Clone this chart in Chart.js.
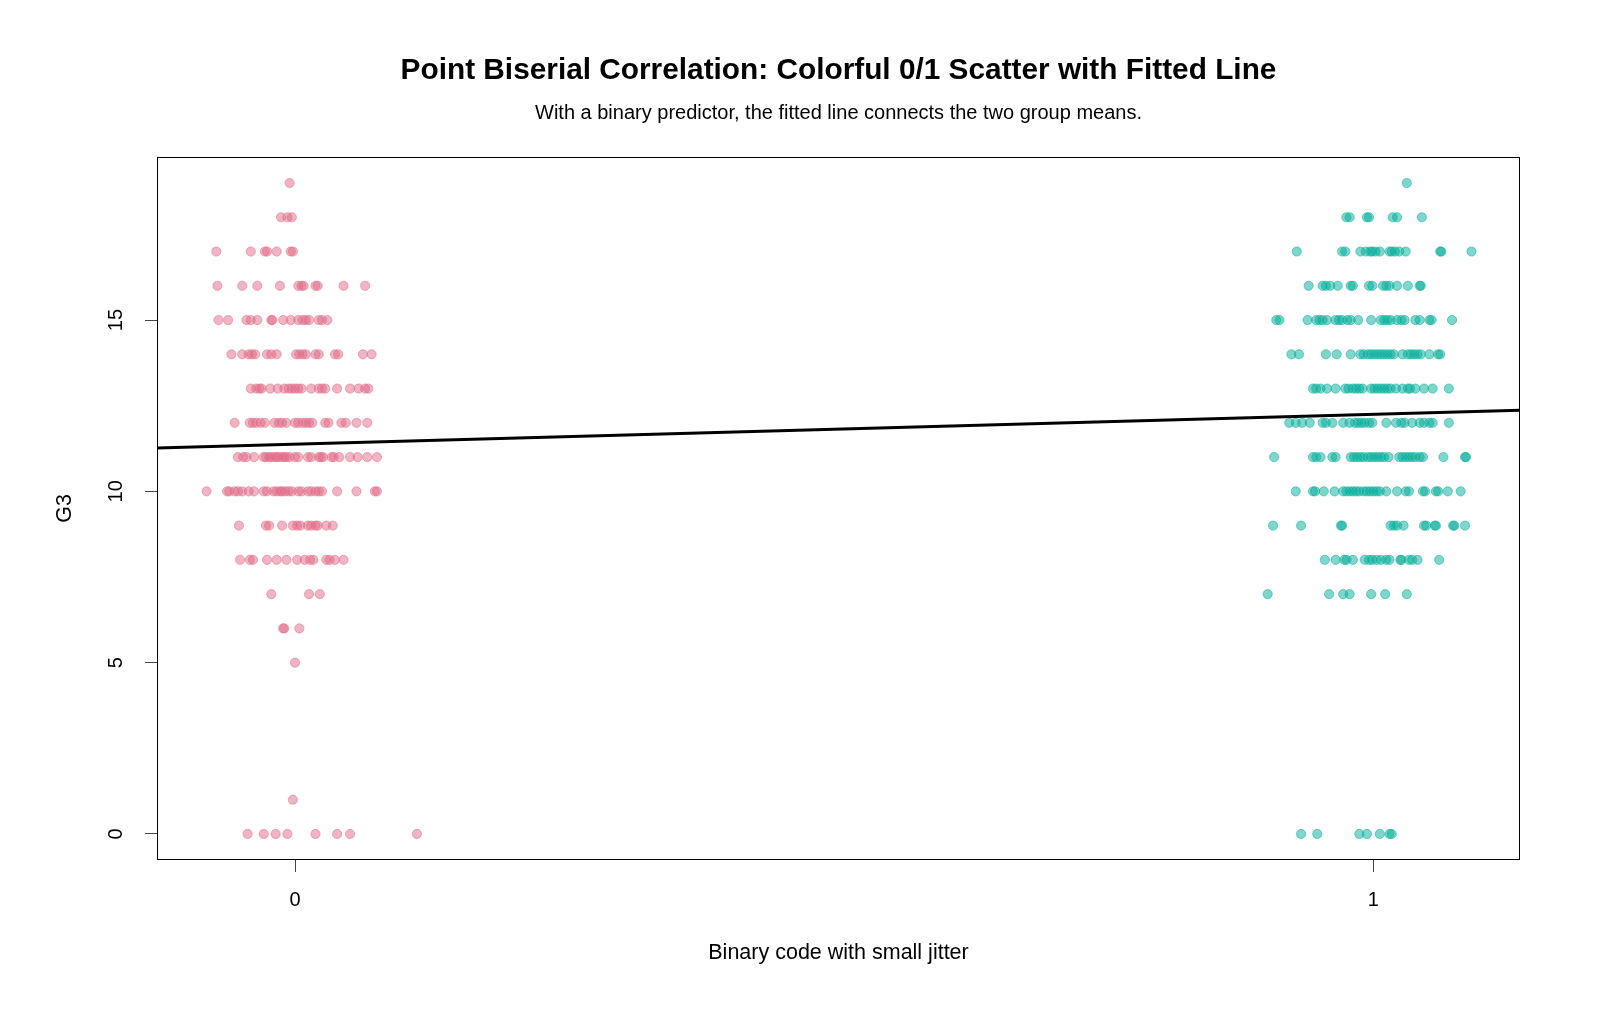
<!DOCTYPE html>
<html><head><meta charset="utf-8">
<script src="https://cdn.jsdelivr.net/npm/chart.js@4.4.1/dist/chart.umd.min.js"></script>
<style>html,body{margin:0;padding:0;background:#fff;}#wrap{width:1600px;height:1018px;}</style>
</head><body><div id="wrap"><canvas id="c" width="1600" height="1018"></canvas></div>
<script>
const titleText = 'Point Biserial Correlation: Colorful 0/1 Scatter with Fitted Line';
const subtitleText = 'With a binary predictor, the fitted line connects the two group means.';
const xTitle = 'Binary code with small jitter';
const yTitle = 'G3';
const xTickValues = [0, 1];
const yTickValues = [0, 5, 10, 15];
const xLimits = [-0.128, 1.136];
const yLimits = [-0.76, 19.76];
const groupMeans = [11.38, 12.25];

const g3Levels = [19,18,17,16,15,14,13,12,11,10,9,8,7,6,5,4,3,2,1,0];
// jittered x positions of group 0, one list per G3 level above
const group0Jitter = [
  [-0.005],
  [-0.013,-0.007,-0.003],
  [-0.073,-0.041,-0.028,-0.026,-0.017,-0.004,-0.002],
  [-0.072,-0.049,-0.035,-0.014,0.003,0.006,0.008,0.019,0.021,0.045,0.065],
  [-0.071,-0.062,-0.045,-0.041,-0.035,-0.022,-0.021,-0.011,-0.004,0.003,0.007,0.010,0.013,0.022,0.025,0.030],
  [-0.059,-0.049,-0.043,-0.040,-0.037,-0.026,-0.022,-0.017,0.001,0.004,0.007,0.010,0.019,0.022,0.037,0.040,0.063,0.071],
  [-0.041,-0.036,-0.033,-0.031,-0.023,-0.016,-0.010,-0.006,-0.003,0.000,0.003,0.006,0.015,0.022,0.025,0.028,0.039,0.051,0.059,0.065,0.068],
  [-0.056,-0.042,-0.039,-0.036,-0.032,-0.028,-0.019,-0.015,-0.012,-0.008,0.000,0.003,0.007,0.010,0.013,0.016,0.028,0.031,0.043,0.047,0.057,0.067],
  [-0.053,-0.048,-0.045,-0.038,-0.029,-0.027,-0.024,-0.022,-0.019,-0.017,-0.015,-0.012,-0.010,-0.008,-0.005,0.000,0.003,0.012,0.015,0.022,0.024,0.026,0.034,0.036,0.041,0.051,0.058,0.067,0.076],
  [-0.082,-0.063,-0.061,-0.056,-0.053,-0.049,-0.043,-0.038,-0.029,-0.026,-0.020,-0.017,-0.014,-0.012,-0.009,-0.006,-0.003,0.003,0.006,0.012,0.015,0.019,0.022,0.025,0.039,0.057,0.074,0.076],
  [-0.052,-0.027,-0.024,-0.012,-0.002,0.002,0.005,0.012,0.015,0.019,0.021,0.029,0.035],
  [-0.051,-0.042,-0.039,-0.026,-0.017,-0.008,0.002,0.009,0.014,0.017,0.029,0.032,0.037,0.045],
  [-0.022,0.013,0.023],
  [-0.011,-0.010,0.004],
  [0.000],
  [],
  [],
  [],
  [-0.002],
  [-0.044,-0.029,-0.018,-0.007,0.019,0.039,0.051,0.113]
];
// jittered x positions of group 1, one list per G3 level above
const group1Jitter = [
  [1.031],
  [0.975,0.978,0.994,0.996,1.018,1.022,1.045],
  [0.929,0.971,0.974,0.988,0.993,0.997,0.999,1.002,1.006,1.015,1.017,1.020,1.024,1.030,1.062,1.063,1.091],
  [0.940,0.953,0.956,0.960,0.967,0.979,0.981,0.996,0.999,1.009,1.012,1.015,1.022,1.032,1.043,1.044],
  [0.910,0.913,0.939,0.947,0.950,0.953,0.957,0.965,0.968,0.971,0.976,0.979,0.986,0.998,1.007,1.010,1.013,1.016,1.022,1.026,1.029,1.039,1.043,1.052,1.054,1.073],
  [0.924,0.931,0.956,0.966,0.979,0.988,0.991,0.995,0.998,1.001,1.004,1.007,1.010,1.013,1.016,1.019,1.027,1.032,1.035,1.038,1.041,1.044,1.052,1.060,1.062],
  [0.944,0.947,0.951,0.957,0.965,0.974,0.977,0.981,0.984,0.987,0.990,0.998,1.001,1.004,1.007,1.010,1.013,1.016,1.021,1.027,1.032,1.034,1.039,1.047,1.055,1.070],
  [0.922,0.928,0.934,0.941,0.953,0.956,0.962,0.972,0.978,0.983,0.986,0.989,0.992,0.996,0.999,1.012,1.021,1.026,1.029,1.036,1.043,1.047,1.052,1.055,1.070],
  [0.908,0.944,0.947,0.951,0.962,0.965,0.979,0.982,0.985,0.988,0.991,0.995,0.998,1.001,1.004,1.007,1.010,1.014,1.024,1.027,1.030,1.033,1.036,1.039,1.043,1.046,1.065,1.085,1.086],
  [0.928,0.944,0.946,0.954,0.964,0.972,0.975,0.978,0.981,0.984,0.987,0.991,0.994,0.997,1.000,1.003,1.006,1.012,1.022,1.030,1.033,1.046,1.048,1.058,1.060,1.069,1.081],
  [0.907,0.933,0.970,0.971,1.016,1.019,1.022,1.028,1.047,1.049,1.057,1.058,1.074,1.075,1.085],
  [0.955,0.965,0.973,0.975,0.981,0.992,0.996,0.999,1.003,1.007,1.012,1.015,1.025,1.026,1.033,1.036,1.041,1.061],
  [0.902,0.959,0.972,0.978,0.998,1.011,1.031],
  [],
  [],
  [],
  [],
  [],
  [],
  [0.933,0.948,0.987,0.994,1.006,1.015,1.017]
];

const FONT = "'Liberation Sans', Arial, Helvetica, sans-serif";
const pinkFill = 'rgba(225,106,134,0.5)';
const tealFill = 'rgba(0,173,154,0.5)';

function toPoints(rows) {
  const pts = [];
  rows.forEach((row, i) => row.forEach(x => pts.push({x: x, y: g3Levels[i]})));
  return pts;
}
function fitAt(x) { return groupMeans[0] + (groupMeans[1] - groupMeans[0]) * x; }
const fitPoints = xLimits.map(x => ({x: x, y: fitAt(x)}));

const framePlugin = {
  id: 'frame',
  afterDraw(chart) {
    const {ctx, chartArea: a} = chart;
    ctx.save();
    ctx.strokeStyle = '#000';
    ctx.lineWidth = 1;
    ctx.strokeRect(Math.round(a.left) + 0.5, Math.round(a.top) + 0.5,
                   Math.round(a.right - a.left) - 1, Math.round(a.bottom - a.top) - 1);
    ctx.restore();
  }
};

new Chart(document.getElementById('c'), {
  type: 'scatter',
  data: {
    datasets: [
      {
        label: 'fit', data: fitPoints, showLine: true, borderColor: '#000', borderWidth: 3,
        pointRadius: 0, pointHoverRadius: 0, fill: false, tension: 0
      },
      {
        label: '0', data: toPoints(group0Jitter), backgroundColor: pinkFill, borderColor: pinkFill,
        pointRadius: 4.6, pointBorderWidth: 1, pointHoverRadius: 4.6
      },
      {
        label: '1', data: toPoints(group1Jitter), backgroundColor: tealFill, borderColor: tealFill,
        pointRadius: 4.6, pointBorderWidth: 1, pointHoverRadius: 4.6
      }
    ]
  },
  options: {
    responsive: false,
    devicePixelRatio: 1,
    animation: false,
    events: [],
    layout: {padding: {left: 0, top: 0, right: 80, bottom: 0}},
    plugins: {
      legend: {display: false},
      tooltip: {enabled: false},
      title: {
        display: true, text: titleText, fullSize: false, color: '#000',
        font: {family: FONT, size: 29.8, weight: 'bold', lineHeight: 1.2},
        padding: {top: 52.7, bottom: 0}
      },
      subtitle: {
        display: true, text: subtitleText, fullSize: false, color: '#000',
        font: {family: FONT, size: 20, weight: 'normal', lineHeight: 1.2},
        padding: {top: 13.5, bottom: 31}
      }
    },
    scales: {
      x: {
        type: 'linear', min: xLimits[0], max: xLimits[1],
        afterBuildTicks: s => { s.ticks = xTickValues.map(v => ({value: v})); },
        afterFit: s => { s.height = 158; },
        ticks: {color: '#000', font: {family: FONT, size: 20}, padding: 16, maxRotation: 0, autoSkip: false,
                callback: v => String(v)},
        grid: {drawOnChartArea: false, drawTicks: true, tickLength: 12, color: '#444', lineWidth: 1},
        border: {display: false},
        title: {display: true, text: xTitle, color: '#000', font: {family: FONT, size: 21.5, lineHeight: 1.2},
                padding: {top: 0, bottom: 51.6}}
      },
      y: {
        type: 'linear', min: yLimits[0], max: yLimits[1],
        afterBuildTicks: s => { s.ticks = yTickValues.map(v => ({value: v})); },
        afterFit: s => { s.width = 157; },
        ticks: {color: '#000', font: {family: FONT, size: 20}, padding: 17, minRotation: 90, maxRotation: 90,
                crossAlign: 'center', autoSkip: false, callback: v => String(v)},
        grid: {drawOnChartArea: false, drawTicks: true, tickLength: 12, color: '#444', lineWidth: 1},
        border: {display: false},
        title: {display: true, text: yTitle, color: '#000', font: {family: FONT, size: 21.5, lineHeight: 1.2},
                padding: {top: 52, bottom: 0}}
      }
    }
  },
  plugins: [framePlugin]
});
</script></body></html>
